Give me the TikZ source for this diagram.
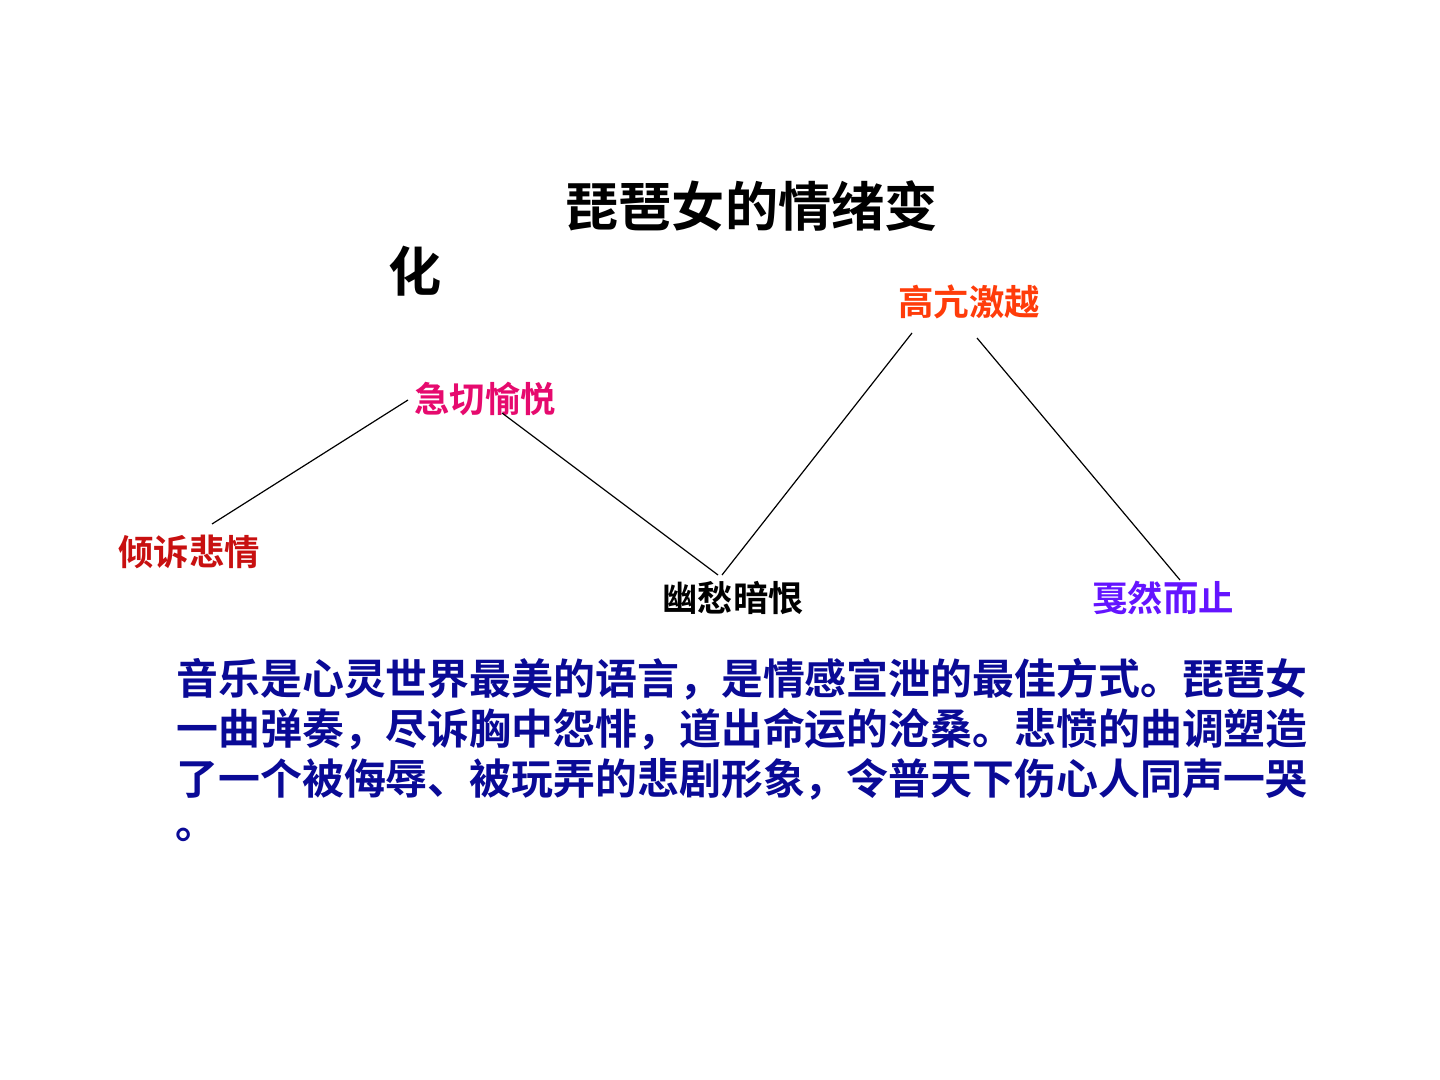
\documentclass[tikz,border=0pt]{standalone}
\usepackage{fontspec}
\setmainfont{Noto Sans CJK SC}[BoldFont={* Bold}]
\newfontfamily\cjk{Noto Sans CJK SC}[BoldFont={* Bold}]
\definecolor{cRed}{RGB}{200,16,16}
\definecolor{cPink}{RGB}{230,10,110}
\definecolor{cOrange}{RGB}{255,60,10}
\definecolor{cPurple}{RGB}{100,20,255}
\definecolor{cBlue}{RGB}{10,10,150}
\begin{document}
\begin{tikzpicture}[x=0.5pt,y=-0.5pt,
  lbl/.style={inner sep=0pt,anchor=west,font=\cjk\bfseries\fontsize{17.7pt}{20pt}\selectfont},
  ttl/.style={inner sep=0pt,anchor=west,font=\cjk\bfseries\fontsize{26.6pt}{30pt}\selectfont},
  para/.style={inner sep=0pt,anchor=west,text=cBlue,font=\cjk\bfseries\fontsize{20.95pt}{24pt}\selectfont},
  conn/.style={draw=black,line width=0.6pt}]
\useasboundingbox (0,0) rectangle (1440,1080);
\fill[white] (0,0) rectangle (1440,1080);
% title
\node[ttl] (t1) at (565,206) {琵琶女的情绪变};
\node[ttl] (t2) at (388,271) {化};
% labels
\node[lbl,text=cRed] (a) at (118,552) {倾诉悲情};
\node[lbl,text=cPink] (b) at (414,399) {急切愉悦};
\node[lbl,text=black] (c) at (662,598) {幽愁暗恨};
\node[lbl,text=cOrange] (d) at (898,302) {高亢激越};
\node[lbl,text=cPurple] (e) at (1092,598) {戛然而止};
% connector anchor points
\coordinate (a1) at (212,524);
\coordinate (b1) at (408,400);
\coordinate (b2) at (502,413);
\coordinate (c1) at (718,575);
\coordinate (c2) at (722,575);
\coordinate (d1) at (912,333);
\coordinate (d2) at (977,338);
\coordinate (e1) at (1180,580);
\draw[conn] (a1) -- (b1);
\draw[conn] (b2) -- (c1);
\draw[conn] (c2) -- (d1);
\draw[conn] (d2) -- (e1);
% paragraph
\node[para] (p1) at (176,679) {音乐是心灵世界最美的语言，是情感宣泄的最佳方式。琵琶女};
\node[para] (p2) at (176,729) {一曲弹奏，尽诉胸中怨悱，道出命运的沧桑。悲愤的曲调塑造};
\node[para] (p3) at (176,779) {了一个被侮辱、被玩弄的悲剧形象，令普天下伤心人同声一哭};
\node[para] (p4) at (175,835) {。};
\end{tikzpicture}
\end{document}
